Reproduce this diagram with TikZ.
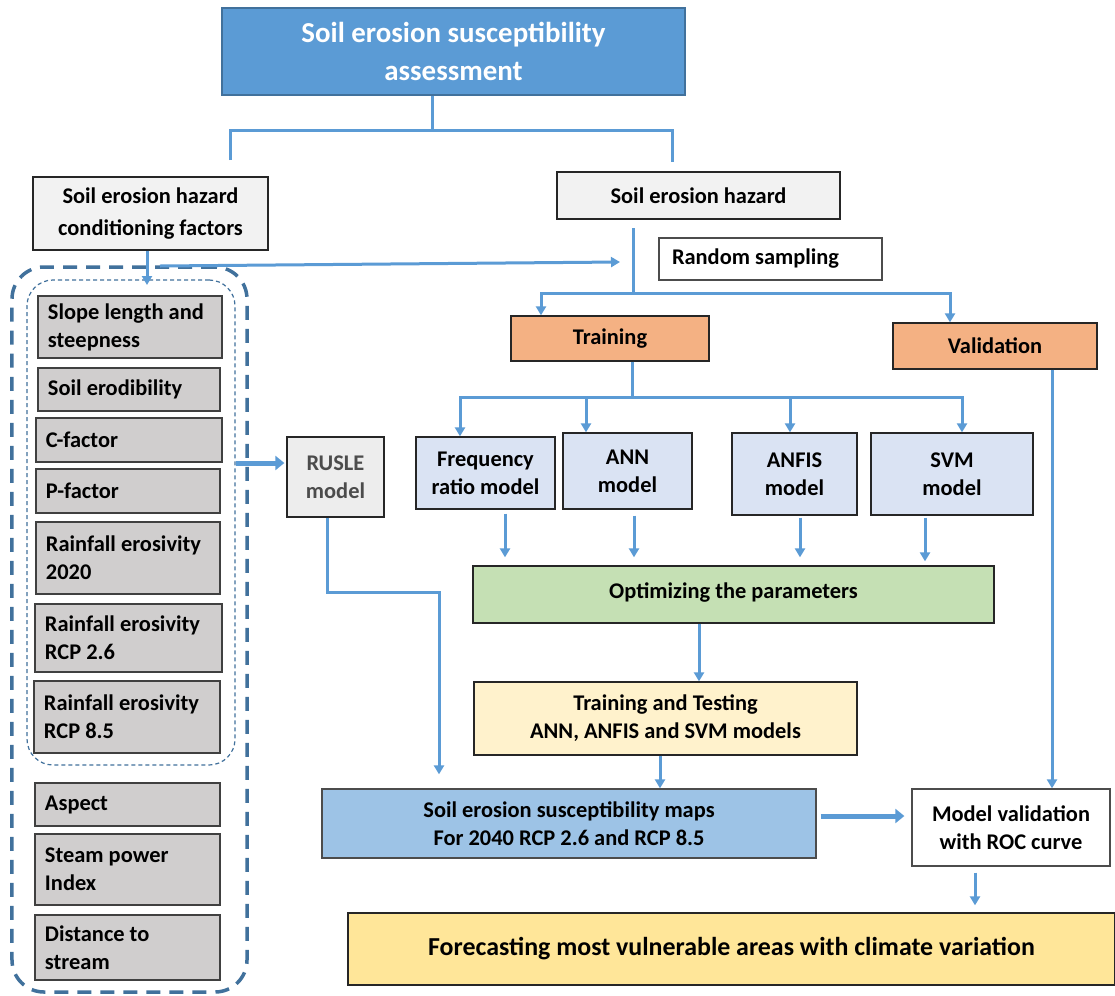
\documentclass[tikz,border=0pt]{standalone}
\usepackage{fontspec}
\setmainfont{Carlito}
\usetikzlibrary{arrows.meta}
\definecolor{arrowblue}{HTML}{5B9BD5}
\definecolor{titleblue}{HTML}{5B9BD5}
\definecolor{edgeblue}{HTML}{41719C}
\definecolor{factorgray}{HTML}{D0CECE}
\definecolor{palegray}{HTML}{F2F2F2}
\definecolor{ruslegray}{HTML}{EDEDED}
\definecolor{orangefill}{HTML}{F4B183}
\definecolor{modelblue}{HTML}{DAE3F3}
\definecolor{greenfill}{HTML}{C5E0B4}
\definecolor{creamfill}{HTML}{FFF2CC}
\definecolor{mapblue}{HTML}{9DC3E6}
\definecolor{goldfill}{HTML}{FFE699}
\tikzset{
  box/.style={draw=black!85, line width=1.3bp, inner sep=0pt, align=center,
    font=\fontsize{22.5}{28}\selectfont\bfseries, text=black},
  factor/.style={box, fill=factorgray, draw=black!75, align=flush left},
  conn/.style={draw=arrowblue, line width=3bp},
  arr/.style={conn, -{Triangle[width=10bp,length=9bp]}},
  fatarr/.style={draw=arrowblue, line width=5bp, -{Triangle[width=14bp,length=9bp]}},
  group/.style={draw=edgeblue, inner sep=0pt},
}
\begin{document}
\begin{tikzpicture}[x=1bp,y=-1bp]
\useasboundingbox[fill=white] (0,0) rectangle (1115,996);

% factor groups
\node[group, line width=3.5bp, dash pattern=on 14bp off 9bp, rounded corners=32bp,
  minimum width=235bp, minimum height=725bp] (outer) at (129.5,629.5) {};
\node[group, line width=1.2bp, dash pattern=on 4bp off 3bp, rounded corners=26bp,
  minimum width=208bp, minimum height=485bp] (inner) at (131,522.5) {};

% title and main branches
\node[box, fill=titleblue, draw=edgeblue, text=white, minimum width=463bp, minimum height=87bp,
  font=\fontsize{29}{38}\selectfont\bfseries] (title) at (453.5,51.5) {Soil erosion susceptibility\\assessment};
\node[box, fill=palegray, minimum width=235bp, minimum height=73bp,
  font=\fontsize{22.5}{32}\selectfont\bfseries] (cond) at (150.5,213.5) {Soil erosion hazard\\conditioning factors};
\node[box, fill=palegray, minimum width=283bp, minimum height=47bp] (haz) at (698.5,195.5) {Soil erosion hazard};
\node[box, fill=white, draw=black!70, minimum width=223bp, minimum height=42bp, align=flush left, text width=197bp] (rand) at (770.5,259) {Random sampling};
\node[box, fill=orangefill, minimum width=198bp, minimum height=45bp] (train) at (610,338.5) {Training};
\node[box, fill=orangefill, minimum width=204bp, minimum height=46bp] (valid) at (995,346) {Validation};

% factors
\node[factor, minimum width=184bp, minimum height=62bp, text width=164bp] (slope) at (130,327) {Slope length and\\steepness};
\node[factor, minimum width=182bp, minimum height=43bp, text width=162bp] (erod) at (129,389.5) {Soil erodibility};
\node[factor, minimum width=186bp, minimum height=44bp, text width=166bp] (cfac) at (129,440) {C-factor};
\node[factor, minimum width=184bp, minimum height=44bp, text width=164bp] (pfac) at (128,491) {P-factor};
\node[factor, minimum width=184bp, minimum height=72bp, text width=164bp] (r20) at (128,558) {Rainfall erosivity\\2020};
\node[factor, minimum width=187bp, minimum height=68bp, text width=167bp] (r26) at (128.5,638) {Rainfall erosivity\\RCP 2.6};
\node[factor, minimum width=186bp, minimum height=72bp, text width=166bp] (r85) at (127,717) {Rainfall erosivity\\RCP 8.5};
\node[factor, minimum width=185bp, minimum height=43bp, text width=165bp] (aspect) at (127.5,804.5) {Aspect};
\node[factor, minimum width=185bp, minimum height=71bp, text width=165bp] (spi) at (127.5,869.5) {Steam power\\Index};
\node[factor, minimum width=185bp, minimum height=65bp, text width=165bp] (dist) at (127.5,947.5) {Distance to\\stream};

% models
\node[box, fill=ruslegray, text=black!70, minimum width=97bp, minimum height=80bp] (rusle) at (335.5,477) {RUSLE\\model};
\node[box, fill=modelblue, minimum width=139bp, minimum height=72bp] (freq) at (485.5,473) {Frequency\\ratio model};
\node[box, fill=modelblue, minimum width=129bp, minimum height=76bp] (ann) at (627.5,471) {ANN\\model};
\node[box, fill=modelblue, minimum width=125bp, minimum height=82bp] (anfis) at (794.5,474) {ANFIS\\model};
\node[box, fill=modelblue, minimum width=162bp, minimum height=82bp] (svm) at (952,474) {SVM\\model};

% results
\node[box, fill=greenfill, minimum width=521bp, minimum height=57bp] (opt) at (733.5,594.5) {\raisebox{7bp}{Optimizing the parameters}};
\node[box, fill=creamfill, minimum width=383bp, minimum height=73bp] (tt) at (665.5,718.5) {Training and Testing\\ANN, ANFIS and SVM models};
\node[box, fill=mapblue, draw=black!70, minimum width=494bp, minimum height=69bp] (maps) at (569,823.5) {Soil erosion susceptibility maps\\For 2040 RCP 2.6 and RCP 8.5};
\node[box, fill=white, draw=black!70, minimum width=198bp, minimum height=77bp] (mv) at (1011,827.5) {Model validation\\with ROC curve};
\node[box, fill=goldfill, minimum width=767bp, minimum height=72bp,
  font=\fontsize{26}{30}\selectfont\bfseries] (fore) at (731.5,949) {Forecasting most vulnerable areas with climate variation};

% connector points
\coordinate (j1) at (432,130);
\coordinate (jl) at (230,160);
\coordinate (jr) at (672,162);
\coordinate (a1) at (147,285);
\coordinate (rs0) at (160,266);
\coordinate (rs1) at (620,262);
\coordinate (h1) at (633,228);
\coordinate (h2) at (633,293);
\coordinate (tl) at (541,0);
\coordinate (vr) at (950,0);
\coordinate (t2) at (632,397);
\coordinate (fx) at (460,0);
\coordinate (ax) at (586,0);
\coordinate (nx) at (790,0);
\coordinate (sx) at (962,0);
\coordinate (o1) at (505,0);
\coordinate (o2) at (634,0);
\coordinate (o3) at (800,0);
\coordinate (o4) at (925,0);
\coordinate (q1) at (699,0);
\coordinate (q2) at (660,0);
\coordinate (r1) at (327,592);
\coordinate (r2) at (439,592);
\coordinate (m1) at (0,816);
\coordinate (vx) at (1052,0);
\coordinate (fx2) at (975,0);
\coordinate (lr) at (0,463);

% connectors
\draw[conn] (title.south -| j1) -- (j1);
\draw[conn] (jl) -- (jl |- j1) -- (jr |- j1) -- (jr);
\draw[arr] (cond.south -| a1) -- (a1);
\draw[arr] (rs0) -- (rs1);
\draw[conn] (h1) -- (h2);
\draw[arr] (h2) -| (train.north -| tl);
\draw[arr] (h2) -| (valid.north -| vr);
\draw[conn] (train.south -| t2) -- (t2);
\draw[arr] (t2) -| (freq.north -| fx);
\draw[arr] (t2) -| (svm.north -| sx);
\draw[arr] (t2 -| ax) -- (ann.north -| ax);
\draw[arr] (t2 -| nx) -- (anfis.north -| nx);
\draw[arr, shorten <=4bp, shorten >=8bp] (freq.south -| o1) -- (opt.north -| o1);
\draw[arr, shorten <=6bp, shorten >=8bp] (ann.south -| o2) -- (opt.north -| o2);
\draw[arr, shorten <=2bp, shorten >=8bp] (anfis.south -| o3) -- (opt.north -| o3);
\draw[arr, shorten <=2bp, shorten >=4bp] (svm.south -| o4) -- (opt.north -| o4);
\draw[arr] (opt.south -| q1) -- (tt.north -| q1);
\draw[arr] (tt.south -| q2) -- (maps.north -| q2);
\draw[arr, shorten >=14bp] (rusle.south -| r1) -- (r1) -- (r2) -- (maps.north -| r2);
\draw[fatarr, shorten <=4bp, shorten >=7bp] (maps.east |- m1) -- (mv.west |- m1);
\draw[arr] (valid.south -| vx) -- (mv.north -| vx);
\draw[arr, shorten <=6bp, shorten >=7bp] (mv.south -| fx2) -- (fore.north -| fx2);
\draw[fatarr, shorten >=2bp] (inner.east |- lr) -- (rusle.west |- lr);
\end{tikzpicture}
\end{document}
